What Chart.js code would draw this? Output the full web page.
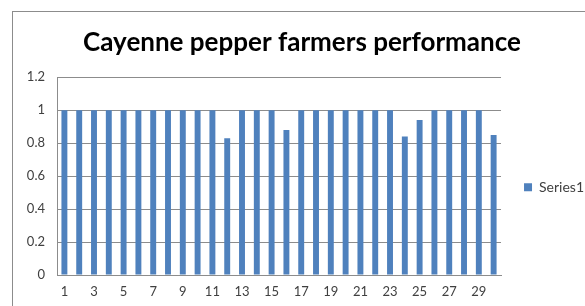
<!DOCTYPE html>
<html>
<head>
<meta charset="utf-8">
<script src="https://cdn.jsdelivr.net/npm/chart.js@4.4.1/dist/chart.umd.min.js"></script>
<style>
  html, body { margin: 0; padding: 0; background: #fff; overflow: hidden; }
  #wrap { position: relative; width: 585px; height: 306px; }
  #frame { position: absolute; left: 12px; top: 11px; width: 600px; height: 320px; border: 1px solid #8c8c8c; }
  canvas { position: absolute; left: 0; top: 0; }
</style>
</head>
<body>
<div id="wrap">
  <div id="frame"></div>
  <canvas id="myChart" width="585" height="306"></canvas>
</div>
<script>
var categories = [];
for (var i = 1; i <= 30; i++) categories.push(String(i));

var seriesName = "Series1";
var seriesValues = [1, 1, 1, 1, 1, 1, 1, 1, 1, 1,
                    1, 0.83, 1, 1, 1, 0.88, 1, 1, 1, 1,
                    1, 1, 1, 0.84, 0.94, 1, 1, 1, 1, 0.85];
var yTicks = [0, 0.2, 0.4, 0.6, 0.8, 1, 1.2];

var ctx = document.getElementById("myChart");

var myChart = new Chart(ctx, {
    type: 'bar',
    data: {
        labels: categories,
        datasets: [{
            label: seriesName,
            data: seriesValues,
            backgroundColor: "#4F81BD",
            borderWidth: 0,
            barPercentage: 0.4,
            categoryPercentage: 1
        }]
    },
    options: {
        responsive: false,
        animation: false,
        // negative right padding pushes the legend's spare width off the canvas
        layout: { padding: { left: 10, right: -9, top: 0, bottom: 0 } },
        plugins: {
            title: {
                display: true,
                text: 'Cayenne pepper farmers performance',
                font: { family: "Lato", size: 26, weight: 'bold' },
                color: '#000',
                padding: { top: 27, bottom: 19 }
            },
            legend: {
                position: 'right',
                fullSize: false,
                title: { display: true, text: '', font: { size: 12 }, padding: { top: 4, bottom: 4 } }, // empty title nudges the entry down
                labels: {
                    boxWidth: 8,
                    boxHeight: 8,
                    font: { family: "Lato", size: 14 },
                    color: '#404040',
                    padding: 23
                }
            },
            tooltip: { enabled: false }
        },
        scales: {
            x: {
                grid: { display: false, drawTicks: false },
                border: { color: '#8c8c8c' },
                ticks: {
                    autoSkip: false,
                    maxRotation: 0,
                    color: '#404040',
                    font: { family: "Lato", size: 13 },
                    padding: 9,
                    callback: function(v, i) { return i % 2 === 0 ? categories[i] : ''; }
                },
                afterFit: function(s) { s.height = 31; }
            },
            y: {
                min: 0,
                max: 1.2,
                afterBuildTicks: function(s) { s.ticks = yTicks.map(function(v) { return { value: v }; }); },
                grid: { color: '#8c8c8c', drawTicks: false },
                border: { color: '#8c8c8c' },
                ticks: {
                    color: '#404040',
                    font: { family: "Lato", size: 13 },
                    padding: 12,
                    callback: function(v) { return String(Math.round(v * 10) / 10); }
                },
                afterFit: function(s) { s.width = 47; }
            }
        }
    }
});
</script>
</body>
</html>
